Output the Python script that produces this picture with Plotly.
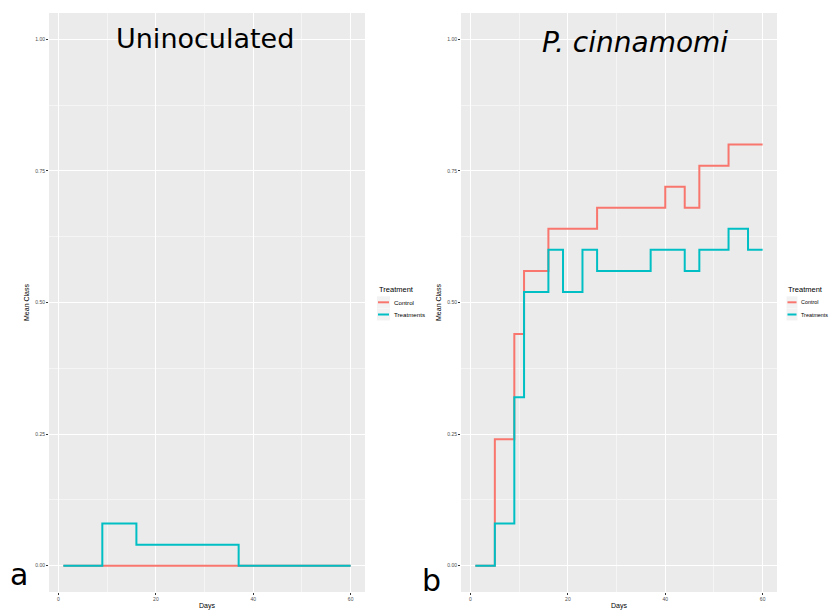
import plotly.graph_objects as go

# ---- data ----
days = [1, 5, 9, 11, 16, 19, 23, 26, 37, 40, 44, 47, 53, 57, 60]
uninoc_control = [0, 0, 0, 0, 0, 0, 0, 0, 0, 0, 0, 0, 0, 0, 0]
uninoc_treat = [0, 0, 0.08, 0.08, 0.04, 0.04, 0.04, 0.04, 0, 0, 0, 0, 0, 0, 0]
pc_control = [0, 0.24, 0.44, 0.56, 0.64, 0.64, 0.64, 0.68, 0.68, 0.72, 0.68, 0.76, 0.80, 0.80, 0.80]
pc_treat = [0, 0.08, 0.32, 0.52, 0.60, 0.52, 0.60, 0.56, 0.60, 0.60, 0.56, 0.60, 0.64, 0.60, 0.60]
series_names = ["Control", "Treatments"]
colors = ["#F8766D", "#00BFC4"]
legend_title = "Treatment"
x_ticks = [0, 20, 40, 60]
y_ticks = [0, 0.25, 0.5, 0.75, 1.0]
y_ticklabels = ["0.00", "0.25", "0.50", "0.75", "1.00"]
panel_titles = ["Uninoculated", "<i>P. cinnamomi</i>"]
panel_letters = ["a", "b"]

W, H = 834, 610
fig = go.Figure()

panels = [
    dict(xa="x", ya="y", data=[uninoc_control, uninoc_treat]),
    dict(xa="x2", ya="y2", data=[pc_control, pc_treat]),
]
for p in panels:
    for name, vals, col in zip(series_names, p["data"], colors):
        fig.add_trace(go.Scatter(
            x=days, y=vals, mode="lines", name=name,
            line=dict(color=col, width=2, shape="hv"),
            xaxis=p["xa"], yaxis=p["ya"], showlegend=False,
        ))

ydom = [(H - 592) / H, (H - 13) / H]
xdoms = [[49 / W, 365 / W], [461 / W, 777 / W]]

def xaxis_cfg(dom):
    return dict(
        domain=dom, range=[-1.95, 62.95], tickmode="array", tickvals=x_ticks,
        ticks="outside", ticklen=2, tickcolor="#333333", tickwidth=0.8,
        tickfont=dict(size=5, color="#4D4D4D", family="Liberation Sans"),
        showgrid=True, gridcolor="white", gridwidth=1, zeroline=False, showline=False,
        minor=dict(tickmode="array", tickvals=[10, 30, 50], showgrid=True,
                   gridcolor="#F5F5F5", gridwidth=0.6, ticks=""),
        title=dict(text="Days", font=dict(size=7, color="black", family="Liberation Sans"), standoff=3),
        fixedrange=True,
    )

def yaxis_cfg(anchor):
    return dict(
        domain=ydom, range=[-0.05, 1.05], tickmode="array", tickvals=y_ticks,
        ticktext=y_ticklabels, anchor=anchor,
        ticks="outside", ticklen=2, tickcolor="#333333", tickwidth=0.8,
        tickfont=dict(size=5, color="#4D4D4D", family="Liberation Sans"),
        showgrid=True, gridcolor="white", gridwidth=1, zeroline=False, showline=False,
        minor=dict(tickmode="array", tickvals=[0.125, 0.375, 0.625, 0.875], showgrid=True,
                   gridcolor="#F5F5F5", gridwidth=0.6, ticks=""),
        title=dict(text="Mean Class", font=dict(size=7, color="black", family="Liberation Sans"), standoff=4),
        fixedrange=True,
    )

annotations = [
    dict(text=panel_titles[0], x=205 / W, y=1 - 38 / H, xref="paper", yref="paper",
         showarrow=False, font=dict(size=27, family="DejaVu Sans", color="black"),
         xanchor="center", yanchor="middle"),
    dict(text=panel_titles[1], x=635 / W, y=1 - 42 / H, xref="paper", yref="paper",
         showarrow=False, font=dict(size=28, family="DejaVu Sans", color="black"),
         xanchor="center", yanchor="middle"),
    dict(text=panel_letters[0], x=19 / W, y=1 - 574 / H, xref="paper", yref="paper",
         showarrow=False, font=dict(size=30, family="DejaVu Sans", color="black"),
         xanchor="center", yanchor="middle"),
    dict(text=panel_letters[1], x=431 / W, y=1 - 580 / H, xref="paper", yref="paper",
         showarrow=False, font=dict(size=30, family="DejaVu Sans", color="black"),
         xanchor="center", yanchor="middle"),
]
shapes = []

# ---- legends (ggplot-style, short keys) ----
def add_legend(x0, text_size, key_w=13):
    annotations.append(dict(
        text=legend_title, x=x0 / W, y=1 - 289.5 / H, xref="paper", yref="paper",
        showarrow=False, xanchor="left", yanchor="middle",
        font=dict(size=7.5, color="black", family="Liberation Sans")))
    for i, (name, col) in enumerate(zip(series_names, colors)):
        yc = 302.3 + 12.2 * i
        shapes.append(dict(type="rect", xref="paper", yref="paper",
                           x0=(x0 + 0.5) / W, x1=(x0 + 0.5 + key_w) / W,
                           y0=1 - (yc - 6) / H, y1=1 - (yc + 6) / H,
                           fillcolor="#F2F2F2", line=dict(width=0), layer="above"))
        shapes.append(dict(type="line", xref="paper", yref="paper",
                           x0=(x0 + 1.5) / W, x1=(x0 + key_w - 0.5) / W,
                           y0=1 - yc / H, y1=1 - yc / H,
                           line=dict(color=col, width=2), layer="above"))
        annotations.append(dict(
            text=name, x=(x0 + key_w + 2) / W, y=1 - yc / H, xref="paper", yref="paper",
            showarrow=False, xanchor="left", yanchor="middle",
            font=dict(size=text_size, color="black", family="Liberation Sans")))

add_legend(376.5, 6.2)
add_legend(786.0, 5.4, key_w=11)

fig.update_layout(
    width=W, height=H, margin=dict(l=0, r=0, t=0, b=0, autoexpand=False),
    paper_bgcolor="white", plot_bgcolor="#EBEBEB",
    xaxis=xaxis_cfg(xdoms[0]), yaxis=yaxis_cfg("x"),
    xaxis2=xaxis_cfg(xdoms[1]), yaxis2=yaxis_cfg("x2"),
    annotations=annotations, shapes=shapes, showlegend=False,
)

fig.write_html("out.html")
